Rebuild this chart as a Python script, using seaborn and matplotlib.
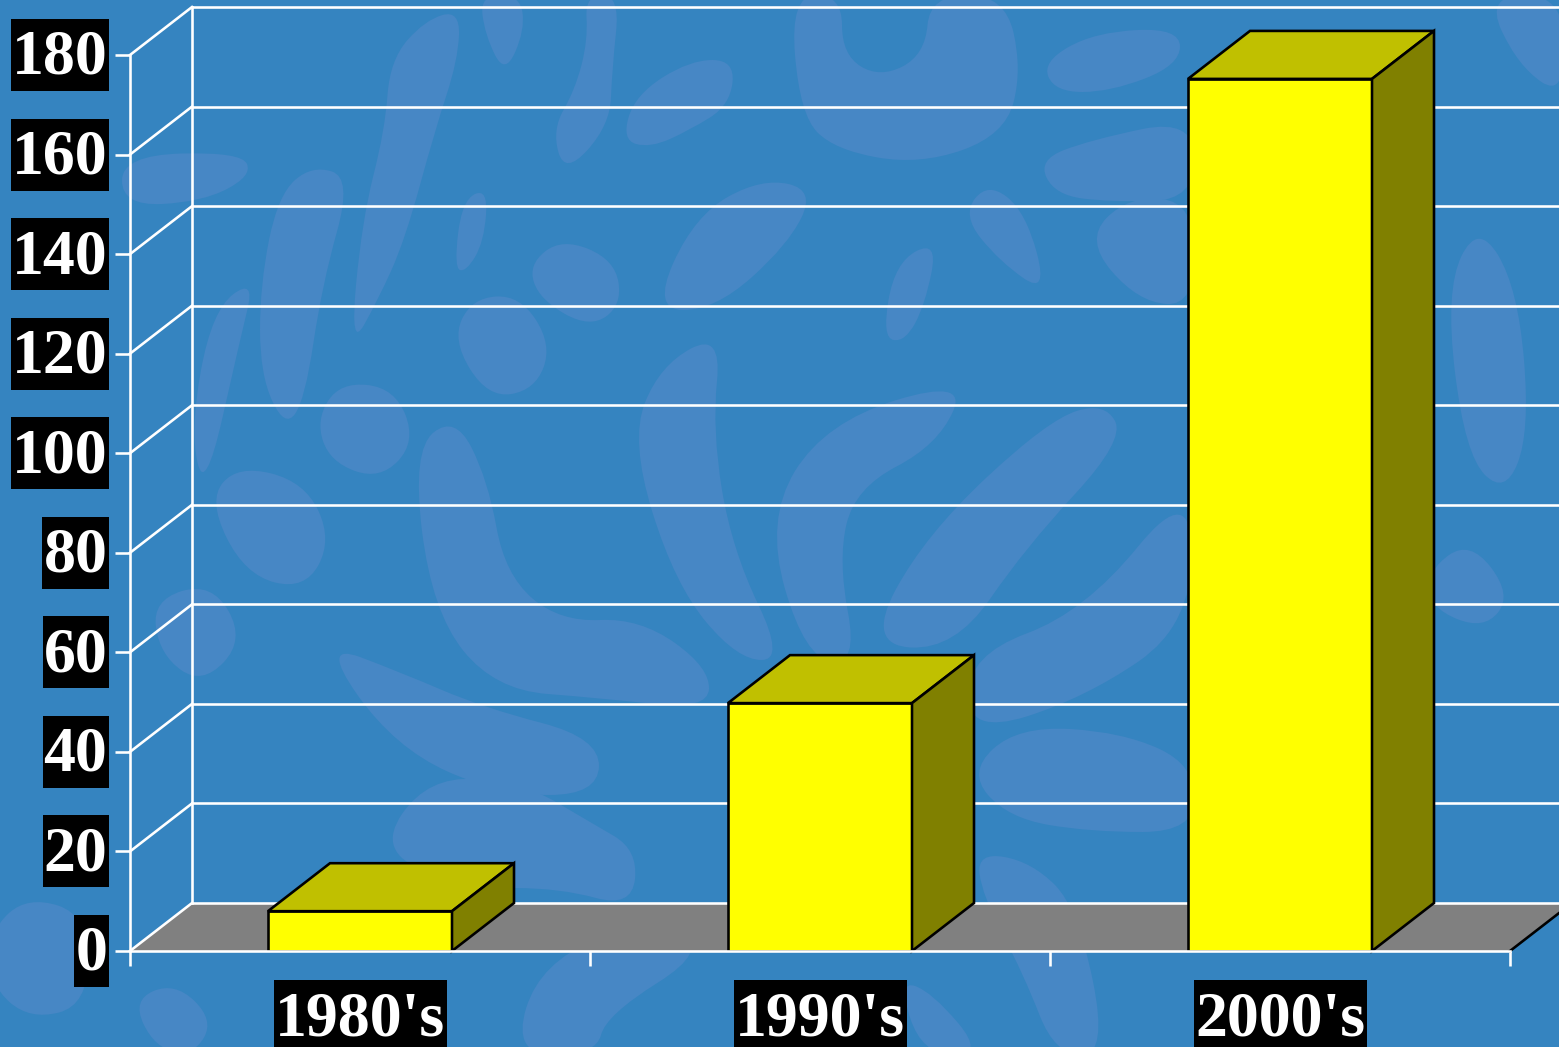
import pandas as pd
import matplotlib.pyplot as plt
import seaborn as sns
from matplotlib.patches import PathPatch, Polygon, Rectangle
from matplotlib.path import Path
from matplotlib.transforms import Affine2D, ScaledTranslation

decades = ["1980's", "1990's", "2000's"]
values = [8, 49.8, 175.2]
y_ticks = [0, 20, 40, 60, 80, 100, 120, 140, 160, 180]

W, H = 1559, 1047
BG = '#3584C0'
BLOB = '#4787C5'
DEPTH_X = 62 / 460
DEPTH_Y = 48 / 4.98
LW = 2.6 * 0.72

# background texture, outlines in pixels from the top left
blobs = [
    [(460, 10), (425, 20), (390, 60), (385, 130), (362, 220), (350, 350), (378, 300), (405, 240), (435, 130), (458, 60)],
    [(480, -5), (520, -5), (525, 30), (505, 75), (485, 35)],
    [(585, -5), (620, -5), (612, 70), (610, 125), (565, 175), (552, 130), (575, 90), (588, 40)],
    [(622, 140), (635, 95), (690, 60), (735, 60), (730, 105), (690, 130), (650, 148)],
    [(790, -5), (842, -5), (842, 55), (880, 78), (925, 55), (930, -5), (1005, -5), (1022, 70), (1005, 135), (920, 165), (835, 150), (800, 115)],
    [(1042, 62), (1095, 32), (1180, 28), (1180, 65), (1110, 92), (1055, 92)],
    [(1038, 160), (1090, 140), (1195, 118), (1195, 200), (1110, 202), (1055, 195)],
    [(260, 285), (278, 195), (312, 165), (352, 178), (322, 285), (305, 400), (285, 428), (260, 375)],
    [(190, 430), (212, 310), (255, 278), (240, 340), (205, 495)],
    [(454, 268), (462, 200), (488, 188), (484, 242), (466, 272)],
    [(528, 265), (562, 238), (615, 260), (622, 305), (590, 328), (540, 300)],
    [(452, 340), (472, 298), (520, 295), (552, 345), (535, 390), (488, 398)],
    [(316, 420), (340, 382), (395, 388), (416, 442), (380, 480), (330, 462)],
    [(208, 500), (238, 465), (305, 482), (332, 540), (305, 590), (245, 575)],
    [(652, 310), (695, 215), (762, 178), (815, 190), (788, 245), (715, 310)],
    [(962, 215), (988, 182), (1026, 212), (1048, 295), (1000, 262)],
    [(882, 338), (895, 262), (938, 240), (925, 305), (905, 342)],
    [(630, 440), (660, 365), (722, 332), (712, 430), (732, 550), (785, 660), (738, 660), (675, 585)],
    [(412, 450), (455, 415), (488, 480), (505, 575), (560, 622), (640, 618), (710, 668), (708, 710), (600, 698), (495, 690), (432, 612)],
    [(320, 642), (400, 672), (484, 708), (600, 738), (598, 795), (500, 795), (395, 748)],
    [(765, 520), (825, 422), (968, 378), (938, 445), (855, 488), (838, 560), (858, 665), (805, 658)],
    [(866, 645), (925, 535), (1048, 420), (1105, 402), (1125, 440), (1025, 548), (955, 650)],
    [(968, 655), (1085, 612), (1192, 480), (1192, 625), (1085, 698), (968, 735)],
    [(968, 772), (1018, 726), (1122, 732), (1195, 765), (1195, 832), (1090, 832), (1008, 818)],
    [(1445, 290), (1478, 222), (1518, 288), (1530, 432), (1505, 495), (1465, 455)],
    [(1085, 240), (1128, 196), (1195, 202), (1195, 306), (1138, 302)],
    [(1428, 570), (1470, 540), (1512, 595), (1484, 630), (1430, 608)],
    [(-10, 930), (28, 896), (88, 915), (88, 1005), (30, 1020), (-10, 985)],
    [(152, 600), (212, 582), (245, 640), (202, 685), (160, 655)],
    [(122, 155), (242, 152), (252, 176), (202, 202), (122, 206)],
    [(376, 852), (428, 776), (522, 782), (590, 822), (638, 850), (632, 908), (560, 888), (470, 888)],
    [(977, 852), (1032, 862), (1078, 908), (1108, 1055), (1055, 1055), (1024, 975), (982, 895)],
    [(512, 1055), (540, 962), (652, 917), (710, 950), (606, 1015), (596, 1055)],
    [(132, 1000), (175, 982), (214, 1020), (194, 1055), (155, 1048)],
    [(1485, -5), (1565, -5), (1565, 98), (1518, 66)],
    [(898, 980), (932, 992), (985, 1055), (922, 1055)],
]


def smooth_outline(points):
    # closed quadratic curve through the side midpoints
    mids = [((a[0] + b[0]) / 2, (a[1] + b[1]) / 2)
            for a, b in zip(points, points[1:] + points[:1])]
    verts = [mids[-1]]
    codes = [Path.MOVETO]
    for corner, mid in zip(points, mids):
        verts += [corner, mid]
        codes += [Path.CURVE3, Path.CURVE3]
    return Path(verts, codes)


data = pd.DataFrame({'decade': decades, 'value': values})

plt.rcParams['font.family'] = ['Liberation Serif', 'DejaVu Serif']
fig = plt.figure(figsize=(W / 100, H / 100), dpi=100, facecolor=BG)
ax = fig.add_axes([130 / W, 1 - 951 / H, 1380 / W, 896 / H])
ax.patch.set_alpha(0)

to_fig = Affine2D().scale(1 / W, -1 / H).translate(0, 1) + fig.transFigure
for outline in blobs:
    fig.add_artist(PathPatch(smooth_outline(outline), transform=to_fig, facecolor=BLOB,
                             edgecolor='none', zorder=-5))

sns.barplot(x='decade', y='value', data=data, ax=ax, width=0.4, color='#FFFF00',
            saturation=1, edgecolor='black', linewidth=LW, zorder=5)
ax.set_xlim(-0.5, 2.5)
ax.set_ylim(0, 180)
ax.set_xlabel('')
ax.set_ylabel('')
for side in ax.spines.values():
    side.set_visible(False)

# floor
ax.add_patch(Polygon([(-0.5, 0), (-0.5 + DEPTH_X, DEPTH_Y), (2.5 + DEPTH_X, DEPTH_Y), (2.5, 0)],
                     facecolor='#808080', edgecolor='none', clip_on=False, zorder=1))
ax.plot([2.5, 2.5 + DEPTH_X], [0, DEPTH_Y], color='black', lw=LW, clip_on=False, zorder=2)

# back wall and side wall lines
for v in y_ticks:
    ax.plot([-0.5 + DEPTH_X, 2.5 + DEPTH_X], [v + DEPTH_Y] * 2, color='white', lw=LW, clip_on=False, zorder=3)
    ax.plot([-0.5, -0.5 + DEPTH_X], [v, v + DEPTH_Y], color='white', lw=LW, clip_on=False, zorder=3)
ax.plot([-0.5 + DEPTH_X] * 2, [DEPTH_Y, 180 + DEPTH_Y], color='white', lw=LW, clip_on=False, zorder=3)
ax.plot([-0.5, -0.5], [0, 180], color='white', lw=LW, clip_on=False, zorder=3)
ax.plot([-0.5, 2.5], [0, 0], color='white', lw=LW, clip_on=False, zorder=8)

# 3d faces of the bars
for bar in ax.patches[:len(values)]:
    x0, x1 = bar.get_x(), bar.get_x() + bar.get_width()
    top = bar.get_height()
    ax.add_patch(Polygon([(x0, top), (x0 + DEPTH_X, top + DEPTH_Y), (x1 + DEPTH_X, top + DEPTH_Y), (x1, top)],
                         facecolor='#C0C000', edgecolor='black', lw=LW, clip_on=False, zorder=6))
    ax.add_patch(Polygon([(x1, 0), (x1, top), (x1 + DEPTH_X, top + DEPTH_Y), (x1 + DEPTH_X, DEPTH_Y)],
                         facecolor='#808000', edgecolor='black', lw=LW, clip_on=False, zorder=6))

ax.set_yticks(y_ticks)
ax.set_xticks([-0.5, 0.5, 1.5, 2.5], ['', '', '', ''])
ax.set_xticks([0, 1, 2], decades, minor=True)
ax.tick_params(axis='y', length=15 * 0.72, width=LW, color='white', pad=5.5,
               labelsize=46, labelcolor='white')
ax.tick_params(axis='x', which='major', length=15 * 0.72, width=LW, color='white')
ax.tick_params(axis='x', which='minor', length=0, pad=29.5, labelsize=46, labelcolor='white')
y_labels = ax.get_yticklabels()
x_labels = ax.get_xticklabels(minor=True)
nudge_up = ScaledTranslation(0, 3 / 100, fig.dpi_scale_trans)
for label in y_labels:
    label.set_fontweight('bold')
    label.set_transform(label.get_transform() + nudge_up)
for label in x_labels:
    label.set_fontweight('bold')

# black boxes behind the labels
fig.canvas.draw()
for label, lift in [(t, 4) for t in y_labels] + [(t, 5) for t in x_labels]:
    box = label.get_window_extent()
    mid = (box.y0 + box.y1) / 2 + lift
    fig.add_artist(Rectangle((box.x0 - 1, mid - 36), box.width + 3, 72, transform=None,
                             facecolor='black', edgecolor='none', zorder=-1))

fig.savefig('out.png', dpi=100, facecolor=BG)
